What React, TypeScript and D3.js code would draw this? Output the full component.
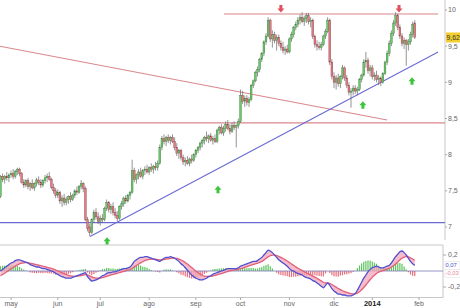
import React from 'react';
import * as d3 from 'd3';

// [open, high, low, close] per trading day, from 2013-04-24 to 2014-01-30
const candles: [number, number, number, number][] = [
  [7.42, 7.72, 7.40, 7.70], [7.70, 7.74, 7.62, 7.66], [7.66, 7.72, 7.60, 7.70], [7.70, 7.76, 7.64, 7.68],
  [7.68, 7.74, 7.62, 7.72], [7.72, 7.78, 7.68, 7.74], [7.74, 7.80, 7.66, 7.70], [7.70, 7.79, 7.67, 7.77],
  [7.77, 7.82, 7.72, 7.80], [7.80, 7.82, 7.70, 7.74], [7.74, 7.76, 7.60, 7.62], [7.62, 7.66, 7.54, 7.58],
  [7.58, 7.66, 7.55, 7.64], [7.64, 7.68, 7.52, 7.56], [7.56, 7.62, 7.50, 7.60], [7.60, 7.66, 7.52, 7.54],
  [7.54, 7.62, 7.50, 7.60], [7.60, 7.68, 7.56, 7.65], [7.65, 7.70, 7.58, 7.62], [7.62, 7.66, 7.54, 7.58],
  [7.58, 7.66, 7.55, 7.64], [7.64, 7.72, 7.60, 7.68], [7.68, 7.74, 7.62, 7.70], [7.70, 7.76, 7.64, 7.66],
  [7.66, 7.68, 7.52, 7.55], [7.55, 7.60, 7.46, 7.50], [7.50, 7.54, 7.40, 7.44], [7.44, 7.52, 7.40, 7.48],
  [7.48, 7.50, 7.32, 7.36], [7.36, 7.44, 7.28, 7.40], [7.40, 7.46, 7.30, 7.34], [7.34, 7.42, 7.30, 7.38],
  [7.38, 7.44, 7.32, 7.42], [7.42, 7.48, 7.34, 7.38], [7.38, 7.46, 7.36, 7.44], [7.44, 7.52, 7.40, 7.50],
  [7.50, 7.56, 7.44, 7.48], [7.48, 7.58, 7.46, 7.56], [7.56, 7.65, 7.52, 7.60], [7.60, 7.62, 7.48, 7.53],
  [7.53, 7.56, 7.08, 7.10], [7.10, 7.14, 6.94, 6.98], [7.00, 7.04, 6.87, 6.92], [6.92, 7.12, 6.90, 7.10],
  [7.10, 7.24, 7.06, 7.20], [7.20, 7.26, 7.10, 7.14], [7.14, 7.20, 7.04, 7.08], [7.08, 7.16, 7.02, 7.12],
  [7.12, 7.18, 7.06, 7.10], [7.10, 7.28, 7.08, 7.26], [7.26, 7.38, 7.22, 7.34], [7.34, 7.36, 7.20, 7.24],
  [7.24, 7.32, 7.18, 7.28], [7.28, 7.34, 7.16, 7.20], [7.20, 7.26, 7.12, 7.16], [7.16, 7.22, 7.08, 7.12],
  [7.12, 7.30, 7.10, 7.28], [7.28, 7.36, 7.24, 7.32], [7.32, 7.42, 7.28, 7.40], [7.40, 7.44, 7.32, 7.36],
  [7.36, 7.46, 7.34, 7.44], [7.44, 7.50, 7.38, 7.48], [7.48, 7.93, 7.46, 7.78], [7.78, 7.82, 7.62, 7.66],
  [7.66, 7.74, 7.60, 7.72], [7.72, 7.80, 7.66, 7.76], [7.76, 7.82, 7.68, 7.70], [7.70, 7.80, 7.66, 7.78],
  [7.78, 7.84, 7.72, 7.80], [7.80, 7.86, 7.74, 7.76], [7.76, 7.84, 7.72, 7.82], [7.82, 7.88, 7.76, 7.80],
  [7.80, 7.86, 7.74, 7.84], [7.84, 7.90, 7.78, 7.82], [7.82, 7.92, 7.78, 7.88], [7.88, 8.14, 7.86, 8.10],
  [8.10, 8.26, 8.06, 8.22], [8.22, 8.28, 8.14, 8.18], [8.18, 8.26, 8.12, 8.24], [8.24, 8.28, 8.16, 8.20],
  [8.20, 8.26, 8.14, 8.24], [8.24, 8.28, 8.16, 8.18], [8.18, 8.24, 8.06, 8.10], [8.10, 8.16, 7.98, 8.02],
  [8.02, 8.08, 7.94, 8.06], [8.06, 8.08, 7.92, 7.96], [7.96, 8.00, 7.86, 7.90], [7.90, 7.96, 7.84, 7.92],
  [7.92, 7.98, 7.86, 7.88], [7.88, 7.96, 7.84, 7.94], [7.94, 8.00, 7.88, 7.92], [7.92, 8.02, 7.90, 8.00],
  [8.00, 8.08, 7.96, 8.06], [8.06, 8.12, 8.02, 8.10], [8.10, 8.18, 8.06, 8.16], [8.16, 8.22, 8.10, 8.20],
  [8.20, 8.26, 8.14, 8.24], [8.24, 8.32, 8.18, 8.22], [8.22, 8.28, 8.16, 8.26], [8.26, 8.30, 8.18, 8.20],
  [8.20, 8.26, 8.14, 8.22], [8.22, 8.28, 8.16, 8.18], [8.18, 8.36, 8.16, 8.34], [8.34, 8.40, 8.28, 8.38],
  [8.38, 8.42, 8.28, 8.30], [8.30, 8.40, 8.26, 8.36], [8.36, 8.46, 8.32, 8.42], [8.42, 8.48, 8.34, 8.36],
  [8.36, 8.42, 8.28, 8.32], [8.32, 8.44, 8.30, 8.40], [8.40, 8.46, 8.34, 8.38], [8.38, 8.42, 8.10, 8.40],
  [8.40, 8.50, 8.36, 8.46], [8.46, 8.90, 8.44, 8.82], [8.82, 8.88, 8.70, 8.74], [8.74, 8.82, 8.66, 8.78],
  [8.78, 8.82, 8.68, 8.72], [8.72, 8.80, 8.66, 8.76], [8.76, 8.98, 8.74, 8.96], [8.96, 9.04, 8.92, 9.02],
  [9.02, 9.16, 9.00, 9.14], [9.14, 9.22, 9.08, 9.18], [9.18, 9.34, 9.14, 9.32], [9.32, 9.42, 9.28, 9.40],
  [9.40, 9.58, 9.36, 9.56], [9.56, 9.68, 9.52, 9.64], [9.64, 9.90, 9.62, 9.86], [9.86, 9.88, 9.56, 9.60],
  [9.60, 9.72, 9.48, 9.66], [9.66, 9.70, 9.54, 9.58], [9.58, 9.66, 9.44, 9.62], [9.62, 9.66, 9.50, 9.54],
  [9.54, 9.58, 9.44, 9.48], [9.48, 9.56, 9.40, 9.44], [9.44, 9.50, 9.38, 9.46], [9.46, 9.52, 9.40, 9.42],
  [9.42, 9.62, 9.40, 9.60], [9.60, 9.70, 9.56, 9.66], [9.66, 9.78, 9.62, 9.76], [9.76, 9.84, 9.72, 9.80],
  [9.80, 9.90, 9.76, 9.86], [9.86, 9.94, 9.80, 9.90], [9.90, 9.97, 9.82, 9.84], [9.84, 9.92, 9.78, 9.88],
  [9.88, 9.96, 9.82, 9.92], [9.92, 9.96, 9.80, 9.84], [9.84, 9.90, 9.76, 9.86], [9.86, 9.88, 9.60, 9.63],
  [9.63, 9.66, 9.48, 9.52], [9.52, 9.58, 9.44, 9.50], [9.50, 9.56, 9.45, 9.48], [9.48, 9.56, 9.44, 9.52],
  [9.52, 9.66, 9.50, 9.64], [9.64, 9.74, 9.60, 9.70], [9.70, 9.90, 9.68, 9.86], [9.86, 9.88, 9.24, 9.28],
  [9.28, 9.32, 9.04, 9.08], [9.08, 9.14, 8.92, 9.00], [9.00, 9.10, 8.90, 9.06], [9.06, 9.12, 8.94, 8.98],
  [8.98, 9.10, 8.92, 9.08], [9.08, 9.24, 9.04, 9.20], [9.20, 9.22, 9.02, 9.06], [9.06, 9.10, 8.92, 8.96],
  [8.96, 9.00, 8.82, 8.86], [8.86, 8.92, 8.65, 8.88], [8.88, 8.96, 8.82, 8.92], [8.92, 8.96, 8.84, 8.88],
  [8.88, 8.94, 8.82, 8.90], [8.90, 9.06, 8.88, 9.04], [9.04, 9.12, 9.00, 9.10], [9.10, 9.32, 9.08, 9.28],
  [9.28, 9.42, 9.20, 9.30], [9.30, 9.34, 9.12, 9.16], [9.16, 9.24, 9.08, 9.20], [9.20, 9.24, 9.04, 9.08],
  [9.08, 9.14, 9.02, 9.10], [9.10, 9.16, 9.00, 9.04], [9.04, 9.10, 8.96, 9.06], [9.06, 9.08, 8.95, 9.00],
  [9.00, 9.14, 8.98, 9.12], [9.12, 9.30, 9.10, 9.28], [9.28, 9.44, 9.24, 9.40], [9.40, 9.58, 9.36, 9.54],
  [9.54, 9.72, 9.50, 9.68], [9.68, 9.86, 9.64, 9.82], [9.82, 9.97, 9.78, 9.92], [9.92, 9.95, 9.72, 9.76],
  [9.76, 9.80, 9.60, 9.64], [9.64, 9.68, 9.50, 9.54], [9.54, 9.62, 9.46, 9.58], [9.58, 9.60, 9.23, 9.52],
  [9.52, 9.60, 9.44, 9.56], [9.56, 9.70, 9.52, 9.66], [9.66, 9.84, 9.62, 9.80], [9.82, 9.86, 9.60, 9.62],
];

// MACD line values per trading day
const macdValues: number[] = [
  0.00, 0.02, 0.04, 0.06, 0.08, 0.10, 0.11, 0.13, 0.14, 0.14,
  0.13, 0.12, 0.11, 0.10, 0.08, 0.07, 0.06, 0.05, 0.05, 0.04,
  0.03, 0.03, 0.02, 0.01, 0.00, -0.01, -0.03, -0.04, -0.06, -0.07,
  -0.08, -0.09, -0.09, -0.09, -0.08, -0.07, -0.06, -0.05, -0.04, -0.03,
  -0.02, -0.07, -0.10, -0.125, -0.12, -0.11, -0.10, -0.08, -0.06, -0.05,
  -0.03, -0.02, -0.02, -0.01, -0.01, 0.00, 0.01, 0.02, 0.03, 0.03,
  0.04, 0.05, 0.08, 0.12, 0.14, 0.16, 0.17, 0.17, 0.18, 0.18,
  0.17, 0.16, 0.15, 0.14, 0.13, 0.12, 0.14, 0.16, 0.17, 0.17,
  0.18, 0.17, 0.16, 0.14, 0.12, 0.09, 0.07, 0.04, 0.01, -0.02,
  -0.05, -0.07, -0.09, -0.10, -0.11, -0.11, -0.10, -0.09, -0.07, -0.06,
  -0.04, -0.03, -0.02, -0.01, 0.00, 0.01, 0.02, 0.03, 0.03, 0.03,
  0.03, 0.03, 0.04, 0.06, 0.07, 0.08, 0.09, 0.10, 0.11, 0.12,
  0.12, 0.13, 0.15, 0.17, 0.20, 0.23, 0.26, 0.25, 0.23, 0.20,
  0.17, 0.14, 0.12, 0.10, 0.08, 0.06, 0.03, 0.01, 0.00, -0.02,
  -0.03, -0.04, -0.05, -0.07, -0.08, -0.09, -0.10, -0.12, -0.13, -0.15,
  -0.17, -0.19, -0.21, -0.18, -0.15, -0.18, -0.22, -0.25, -0.27, -0.29,
  -0.29, -0.30, -0.30, -0.31, -0.31, -0.31, -0.30, -0.28, -0.24, -0.19,
  -0.14, -0.09, -0.05, -0.01, 0.02, 0.04, 0.05, 0.06, 0.05, 0.04,
  0.04, 0.05, 0.06, 0.07, 0.10, 0.14, 0.18, 0.21, 0.24, 0.25,
  0.23, 0.20, 0.16, 0.12, 0.09, 0.07,
];
const signalStart = -0.06;
const signalPeriod = 9;

const monthLabels = ['may', 'jun', 'jul', 'ago', 'sep', 'oct', 'nov', 'dic', '2014', 'feb'];
const monthStartIdx = [5, 27, 47, 70, 92, 113, 136, 157, 175, 197];

const priceTicks = [7, 7.5, 8, 8.5, 9, 9.5, 10];
const macdTicks = [0.2, -0.2];

// trend lines: [index1, price1, index2, price2]
const redLines: [number, number, number, number][] = [
  [-0.2, 9.50, 182, 8.48],
  [105.2, 9.945, 206, 9.945],
  [-0.2, 8.44, 209.2, 8.44],
];
const blueLines: [number, number, number, number][] = [
  [42.2, 6.87, 206, 9.42],
  [-0.2, 7.06, 209.2, 7.06],
];

// signal arrows: [index, price]
const sellSignals: [number, number][] = [[132, 10.07], [187.6, 10.07]];
const buySignals: [number, number][] = [[50.2, 6.86], [102.4, 7.57], [170.6, 8.74], [193.7, 9.07]];

const lastPriceLabel = '9,62';
const lastPrice = 9.62;
const macdValueLabels: [number, string, string][] = [[0.07, '0,07', '#4a52c8'], [-0.03, '-0,03', '#e58a98']];

export default function App() {
  const W = 460, H = 308;
  const x = d3.scaleLinear().domain([0, 197]).range([0.4, 419]);
  const y = d3.scaleLinear().domain([7, 10]).range([227, 10]);
  const ym = d3.scaleLinear().domain([-0.2, 0.2]).range([287, 255]);

  const k = 2 / (signalPeriod + 1);
  const sig: number[] = [];
  macdValues.forEach((m, i) => {
    const prev = i === 0 ? signalStart : sig[i - 1];
    sig.push(i === 0 ? signalStart : m * k + prev * (1 - k));
  });
  const hist = macdValues.map((m, i) => m - sig[i]);

  const line = d3.line<number>().x((_, i) => x(i)).y((d) => ym(d)).curve(d3.curveMonotoneX);
  const band = d3
    .area<number>()
    .x((_, i) => x(i))
    .y0((d) => ym(d))
    .y1((_, i) => ym(sig[i]))
    .curve(d3.curveMonotoneX);

  const font = 'Liberation Sans, Arial, sans-serif';
  const axisX = 445;
  const macdRight = 443;

  const arrowDown = (cx: number, top: number) =>
    `M${cx - 1.5},${top} L${cx + 1.5},${top} L${cx + 1.5},${top + 3.5} L${cx + 3.5},${top + 3.5} L${cx},${top + 7.5} L${cx - 3.5},${top + 3.5} L${cx - 1.5},${top + 3.5} Z`;
  const arrowUp = (cx: number, top: number) =>
    `M${cx},${top} L${cx + 3.5},${top + 4} L${cx + 1.5},${top + 4} L${cx + 1.5},${top + 7.5} L${cx - 1.5},${top + 7.5} L${cx - 1.5},${top + 4} L${cx - 3.5},${top + 4} Z`;

  return (
    <svg
      width={W}
      height={H}
      style={{ position: 'absolute', left: 0, top: 0, background: '#fff' }}
      fontFamily={font}
    >
      {/* main right axis */}
      <line x1={axisX} x2={axisX} y1={0} y2={240} stroke="#c8c8c8" strokeWidth={1} />
      {priceTicks.map((t) => (
        <g key={t}>
          <line x1={axisX} x2={axisX + 2} y1={y(t)} y2={y(t)} stroke="#aaa" />
          <text x={axisX + 3} y={y(t)} dy="0.35em" fontSize={7} fill="#666">
            {d3.format('.1f')(t).replace('.0', '').replace('.', ',')}
          </text>
        </g>
      ))}

      {/* horizontal & trend lines */}
      {redLines.map((l, i) => (
        <line key={'r' + i} x1={x(l[0])} y1={y(l[1])} x2={x(l[2])} y2={y(l[3])} stroke="#d9878c" strokeWidth={1.1} />
      ))}
      {blueLines.map((l, i) => (
        <line key={'b' + i} x1={x(l[0])} y1={y(l[1])} x2={x(l[2])} y2={y(l[3])} stroke="#6a6ad4" strokeWidth={1.1} />
      ))}

      {/* candles */}
      {candles.map((c, i) => {
        const [o, h, l, cl] = c;
        const up = cl >= o;
        const cx = x(i);
        const top = y(Math.max(o, cl));
        const bot = y(Math.min(o, cl));
        return (
          <g key={i}>
            <line x1={cx} x2={cx} y1={y(h)} y2={y(l)} stroke="#666" strokeWidth={0.7} />
            <rect
              x={cx - 0.9}
              y={top}
              width={1.8}
              height={Math.max(0.8, bot - top)}
              fill={up ? '#6cc66c' : '#df7c86'}
              stroke={up ? '#3d7d3d' : '#8f4048'}
              strokeWidth={0.4}
            />
          </g>
        );
      })}

      {/* signals */}
      {sellSignals.map((s, i) => (
        <path key={'s' + i} d={arrowDown(x(s[0]), y(s[1]))} fill="#e0505e" />
      ))}
      {buySignals.map((s, i) => (
        <path key={'g' + i} d={arrowUp(x(s[0]), y(s[1]))} fill="#3cc43c" />
      ))}

      {/* last price label */}
      <rect x={446} y={y(lastPrice) - 5} width={14} height={10} fill="#f2cf2e" />
      <text x={446.5} y={y(lastPrice)} dy="0.35em" fontSize={6.8} fill="#333">
        {lastPriceLabel}
      </text>

      {/* MACD panel */}
      <line x1={0} x2={macdRight} y1={245} y2={245} stroke="#c8c8c8" />
      <line x1={macdRight} x2={macdRight} y1={245} y2={298} stroke="#c8c8c8" />
      <line x1={0} x2={macdRight} y1={297.5} y2={297.5} stroke="#c8c8c8" />
      {hist.map((hv, i) => (
        <rect
          key={'h' + i}
          x={x(i) - 0.6}
          y={hv >= 0 ? ym(hv) : ym(0)}
          width={1.2}
          height={Math.abs(ym(hv) - ym(0))}
          fill={hv >= 0 ? '#5cc55c' : '#e66f7d'}
        />
      ))}
      <line x1={0} x2={macdRight} y1={ym(0)} y2={ym(0)} stroke="#7a7ab8" strokeWidth={0.8} />
      <path d={band(macdValues) || ''} fill="#f3a6b8" opacity={0.75} />
      <path d={line(sig) || ''} fill="none" stroke="#e0607a" strokeWidth={1.3} />
      <path d={line(macdValues) || ''} fill="none" stroke="#4f4fcf" strokeWidth={1.3} />
      {macdTicks.map((t) => (
        <g key={t}>
          <line x1={macdRight} x2={macdRight + 3} y1={ym(t)} y2={ym(t)} stroke="#aaa" />
          <text x={448} y={ym(t)} dy="0.35em" fontSize={7} fill="#666">
            {String(t).replace('.', ',')}
          </text>
        </g>
      ))}
      {macdValueLabels.map((m) => (
        <g key={m[1]}>
          <rect x={445} y={ym(m[0]) - 3.8} width={15} height={7.6} fill="#fff" stroke="#ddd" strokeWidth={0.5} />
          <text x={445.5} y={ym(m[0])} dy="0.35em" fontSize={5.8} fill={m[2]}>
            {m[1]}
          </text>
        </g>
      ))}

      {/* x axis */}
      {monthLabels.map((m, i) => (
        <g key={m}>
          <line x1={x(monthStartIdx[i])} x2={x(monthStartIdx[i])} y1={297.5} y2={300} stroke="#aaa" />
          <text
            x={x(monthStartIdx[i])}
            y={303.5}
            dy="0.35em"
            textAnchor="middle"
            fontSize={m === '2014' ? 7.5 : 7}
            fontWeight={m === '2014' ? 'bold' : 'normal'}
            fill={m === '2014' ? '#222' : '#666'}
          >
            {m}
          </text>
        </g>
      ))}
    </svg>
  );
}
